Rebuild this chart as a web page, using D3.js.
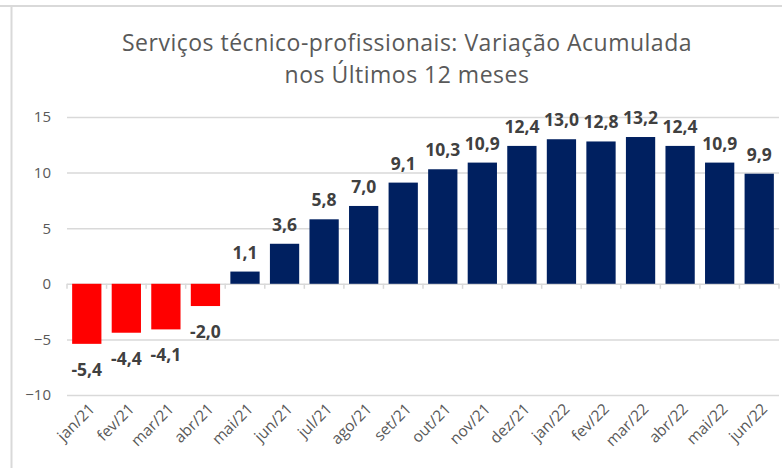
<!DOCTYPE html>
<html>
<head>
<meta charset="utf-8">
<script src="https://cdnjs.cloudflare.com/ajax/libs/d3/7.8.5/d3.min.js"></script>
<style>
  html, body { margin: 0; padding: 0; background: #fff; }
  svg { display: block; font-family: "Open Sans", sans-serif; }
</style>
</head>
<body>
<div id="chart"></div>
<script>
// chart data
const months = ['jan/21', 'fev/21', 'mar/21', 'abr/21', 'mai/21', 'jun/21', 'jul/21', 'ago/21', 'set/21',
                'out/21', 'nov/21', 'dez/21', 'jan/22', 'fev/22', 'mar/22', 'abr/22', 'mai/22', 'jun/22'];
const values = [-5.4, -4.4, -4.1, -2.0, 1.1, 3.6, 5.8, 7.0, 9.1,
                10.3, 10.9, 12.4, 13.0, 12.8, 13.2, 12.4, 10.9, 9.9];
const yTicks = [-10, -5, 0, 5, 10, 15];
const titleLines = ['Serviços técnico-profissionais: Variação Acumulada', 'nos Últimos 12 meses'];

const width = 782, height = 468;
const margin = { top: 117, right: 3, bottom: 73, left: 67 };

const svg = d3.select('#chart').append('svg')
    .attr('width', width)
    .attr('height', height);

// frame edges visible in the crop
svg.append('line').attr('x1', 0).attr('x2', width).attr('y1', 6).attr('y2', 6)
    .attr('stroke', '#d9d9d9').attr('stroke-width', 2);
svg.append('line').attr('x1', 11.5).attr('x2', 11.5).attr('y1', 6).attr('y2', height)
    .attr('stroke', '#d9d9d9').attr('stroke-width', 2);

const x = d3.scaleBand()
    .domain(months)
    .range([margin.left, width - margin.right])
    .paddingInner(0.26)
    .paddingOuter(0.13);

const y = d3.scaleLinear()
    .domain([-10, 15])
    .range([height - margin.bottom, margin.top]);

// title
svg.append('g').selectAll('text')
    .data(titleLines)
    .enter().append('text')
    .attr('x', 407)
    .attr('y', (d, i) => 51 + i * 32)
    .attr('text-anchor', 'middle')
    .attr('font-size', '23px')
    .attr('letter-spacing', '0.5px')
    .attr('fill', '#595959')
    .text(d => d);

// gridlines + y labels
const yAxis = svg.append('g')
    .attr('transform', `translate(${margin.left},0)`)
    .call(d3.axisLeft(y).tickValues(yTicks).tickSize(-(width - margin.right - margin.left)).tickPadding(16));
yAxis.select('.domain').remove();
yAxis.selectAll('.tick line').attr('stroke', '#d9d9d9').attr('stroke-width', 1.5);
yAxis.selectAll('.tick text')
    .attr('font-family', '"Open Sans", sans-serif')
    .attr('font-size', '15px')
    .attr('fill', '#595959');

// category ticks on the zero line
const step = x.step();
const boundaries = d3.range(months.length + 1).map(i => margin.left + i * step);
svg.append('g').selectAll('line')
    .data(boundaries)
    .enter().append('line')
    .attr('x1', d => d).attr('x2', d => d)
    .attr('y1', y(0)).attr('y2', y(0) + 5)
    .attr('stroke', '#d9d9d9').attr('stroke-width', 1.5);

// bars
svg.append('g').selectAll('rect')
    .data(values)
    .enter().append('rect')
    .attr('x', (d, i) => x(months[i]))
    .attr('width', x.bandwidth())
    .attr('y', d => y(Math.max(0, d)))
    .attr('height', d => Math.abs(y(d) - y(0)))
    .attr('fill', d => d < 0 ? '#ff0000' : '#002060');

// value labels
const fmt = d => d3.format('.1f')(d).replace('.', ',').replace('−', '-');
svg.append('g').selectAll('text')
    .data(values)
    .enter().append('text')
    .attr('x', (d, i) => x(months[i]) + x.bandwidth() / 2)
    .attr('y', d => d < 0 ? y(d) + 32 : y(d) - 13)
    .attr('text-anchor', 'middle')
    .attr('font-size', '17.5px')
    .attr('font-weight', 'bold')
    .attr('fill', '#404040')
    .text(fmt);

// month labels
svg.append('g').selectAll('text')
    .data(months)
    .enter().append('text')
    .attr('transform', d => `translate(${x(d) + x.bandwidth() / 2 + 9},${410}) rotate(-45)`)
    .attr('text-anchor', 'end')
    .attr('font-size', '15.5px')
    .attr('fill', '#595959')
    .text(d => d);
</script>
</body>
</html>
